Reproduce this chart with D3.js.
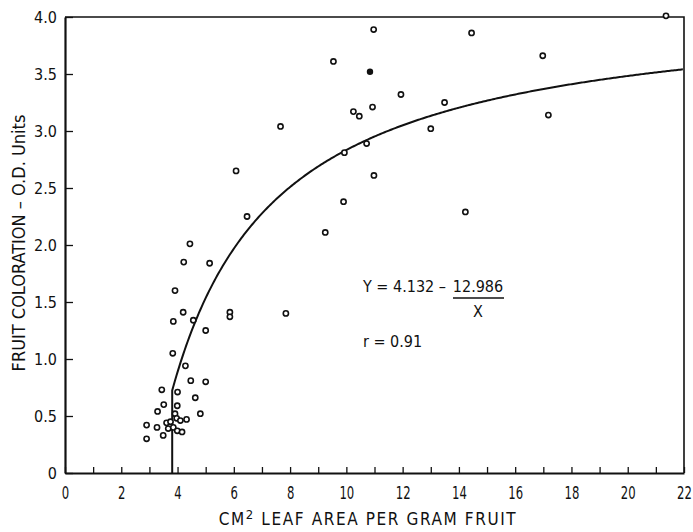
<!DOCTYPE html>
<html>
<head>
<meta charset="utf-8">
<script src="https://cdn.jsdelivr.net/npm/d3@7"></script>
<style>
  body { margin: 0; background: #fff; }
  svg text { font-family: "Liberation Sans Narrow", "DejaVu Sans Condensed", sans-serif; fill: #111; }
</style>
</head>
<body>
<svg id="chart" width="693" height="532"></svg>
<script>
// leaf area (cm2 per gram fruit) vs fruit coloration (O.D. units), open circles
var leafArea = [2.90, 2.90, 3.27, 3.29, 3.44, 3.49, 3.51, 3.61, 3.67, 3.75,
  3.83, 3.85, 3.85, 3.91, 3.91, 3.97, 3.99, 3.99, 4.00, 4.10,
  4.16, 4.20, 4.22, 4.28, 4.32, 4.44, 4.47, 4.56, 4.63, 4.81,
  5.00, 5.00, 5.14, 5.86, 5.86, 6.08, 6.47, 7.66, 7.85, 9.25,
  9.54, 9.90, 9.93, 10.25, 10.46, 10.72, 10.93, 10.97, 10.98, 11.94,
  13.00, 13.49, 14.23, 14.45, 16.98, 17.18, 21.36]
var coloration = [0.42, 0.30, 0.40, 0.54, 0.73, 0.33, 0.60, 0.44, 0.39, 0.45,
  1.05, 1.33, 0.40, 1.60, 0.52, 0.48, 0.59, 0.37, 0.71, 0.46,
  0.36, 1.41, 1.85, 0.94, 0.47, 2.01, 0.81, 1.34, 0.66, 0.52,
  1.25, 0.80, 1.84, 1.41, 1.37, 2.65, 2.25, 3.04, 1.40, 2.11,
  3.61, 2.38, 2.81, 3.17, 3.13, 2.89, 3.21, 3.89, 2.61, 3.32,
  3.02, 3.25, 2.29, 3.86, 3.66, 3.14, 4.01]
// the one solid dot
var solidLeafArea = [10.84]
var solidColoration = [3.52]

// fitted curve Y = a - b / X, drawn from the vertical drop at xStart
var fitA = 4.132, fitB = 12.986
var fitXStart = 3.81

var xTicks = d3.range(0, 23)
var yTicks = [0, 0.5, 1, 1.5, 2, 2.5, 3, 3.5, 4]

var svg = d3.select("#chart")

var x = d3.scaleLinear().domain([0, 22]).range([65, 684])
var y = d3.scaleLinear().domain([0, 4]).range([473, 17])

// frame top and right
svg.append("path")
  .attr("d", "M" + x(0) + "," + y(4) + "H" + x(22) + "V" + y(0))
  .attr("fill", "none")
  .attr("stroke", "#111")
  .attr("stroke-width", 1.6)

var xAxis = svg.append("g")
  .attr("transform", "translate(0," + y(0) + ")")
  .call(d3.axisBottom(x)
    .tickValues(xTicks)
    .tickSizeInner(-6)
    .tickSizeOuter(0)
    .tickPadding(13)
    .tickFormat(function(d) { return d % 2 === 0 ? d : ""; }))
// narrow digits like the original lettering
xAxis.selectAll("text")
  .style("font-size", "18px")
  .attr("transform", "scale(0.72,1)")

var yAxis = svg.append("g")
  .attr("transform", "translate(" + x(0) + ",0)")
  .call(d3.axisLeft(y)
    .tickValues(yTicks)
    .tickSizeInner(-8)
    .tickSizeOuter(0)
    .tickPadding(8)
    .tickFormat(function(d) { return d === 0 ? "0" : d3.format(".1f")(d); }))
yAxis.selectAll("text").style("font-size", "16px")

svg.selectAll(".domain").attr("stroke", "#111").attr("stroke-width", 2.2)
svg.selectAll(".tick line").attr("stroke", "#111").attr("stroke-width", 1.3)

// curve
var curvePts = [[fitXStart, 0]].concat(d3.range(fitXStart, 22.0001, 0.05).map(function(v) {
  return [v, fitA - fitB / v];
}))
svg.append("path")
  .datum(curvePts)
  .attr("fill", "none")
  .attr("stroke", "#111")
  .attr("stroke-width", 2)
  .attr("d", d3.line()
    .x(function(d) { return x(d[0]); })
    .y(function(d) { return y(d[1]); }))

svg.append("g")
  .selectAll("circle")
  .data(leafArea)
  .enter().append("circle")
    .attr("cx", function(d) { return x(d); })
    .attr("cy", function(d, i) { return y(coloration[i]); })
    .attr("r", 2.6)
    .attr("fill", "#fff")
    .attr("stroke", "#111")
    .attr("stroke-width", 1.6)

svg.append("g")
  .selectAll("circle")
  .data(solidLeafArea)
  .enter().append("circle")
    .attr("cx", function(d) { return x(d); })
    .attr("cy", function(d, i) { return y(solidColoration[i]); })
    .attr("r", 3.2)
    .attr("fill", "#111")

// equation
var eq = svg.append("g").style("font-size", "16px")
eq.append("text").attr("x", 363).attr("y", 292).text("Y = 4.132 \u2013")
eq.append("text").attr("x", 478).attr("y", 292).attr("text-anchor", "middle").text("12.986")
eq.append("line")
  .attr("x1", 453).attr("x2", 504).attr("y1", 298).attr("y2", 298)
  .attr("stroke", "#111").attr("stroke-width", 1.6)
eq.append("text").attr("x", 478).attr("y", 317).attr("text-anchor", "middle").text("X")
eq.append("text").attr("x", 363).attr("y", 347).text("r = 0.91")

// axis titles
var xt = svg.append("text")
  .attr("x", 368).attr("y", 525)
  .attr("text-anchor", "middle")
  .style("font-size", "17px")
  .style("letter-spacing", "1.6px")
xt.append("tspan").text("CM")
xt.append("tspan").attr("dy", -6).style("font-size", "13px").text("2")
xt.append("tspan").attr("dy", 6).text(" LEAF AREA PER GRAM FRUIT")

svg.append("text")
  .attr("transform", "translate(25,243) rotate(-90)")
  .attr("text-anchor", "middle")
  .style("font-size", "18px")
  .text("FRUIT COLORATION \u2013 O.D. Units")
</script>
</body>
</html>
